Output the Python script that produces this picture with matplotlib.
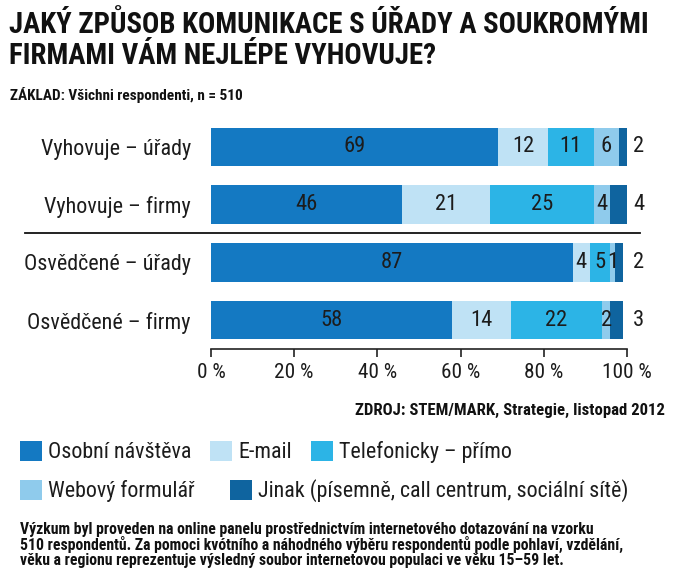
import matplotlib
matplotlib.use("Agg")
import matplotlib.pyplot as plt
from matplotlib import font_manager as fm
from matplotlib.font_manager import FontProperties

categories = ["Vyhovuje – úřady", "Vyhovuje – firmy", "Osvědčené – úřady", "Osvědčené – firmy"]
series_names = ["Osobní návštěva", "E-mail", "Telefonicky – přímo", "Webový formulář",
                "Jinak (písemně, call centrum, sociální sítě)"]
osobni = [69, 46, 87, 58]
email = [12, 21, 4, 14]
telefon = [11, 25, 5, 22]
web = [6, 4, 1, 2]
jinak = [2, 4, 2, 3]
series = [osobni, email, telefon, web, jinak]
colors = ["#1479c2", "#bfe2f5", "#2cb4e6", "#8fcbec", "#0f649f"]
ticks = [0, 20, 40, 60, 80, 100]
tick_labels = ["0 %", "20 %", "40 %", "60 %", "80 %", "100 %"]


# ---- font selection: prefer a condensed face ----
def _w(f):
    w = f.weight
    if isinstance(w, str):
        w = fm.weight_dict.get(w, 400)
    return w


def pick_font(target):
    pref = ['Roboto Condensed', 'Open Sans Condensed', 'Liberation Sans Narrow',
            'DejaVu Sans', 'Noto Sans', 'Open Sans']
    best, best_score = None, None
    for f in fm.fontManager.ttflist:
        cond = (str(f.stretch) in ('condensed', 'semi-condensed', 'extra-condensed')
                or 'Condensed' in f.fname or 'Narrow' in f.fname)
        if not cond or f.style != 'normal':
            continue
        rank = pref.index(f.name) if f.name in pref else len(pref)
        score = rank * 10000 + abs(_w(f) - target)
        if best_score is None or score < best_score:
            best, best_score = f.fname, score
    if best is None:
        best = fm.findfont(FontProperties(family='Roboto',
                                          weight='bold' if target > 500 else 'normal'))
    return best


REG = pick_font(400)
BOLD = pick_font(700)

W, H = 688, 575
fig = plt.figure(figsize=(W / 100, H / 100), dpi=100)
fig.patch.set_facecolor("white")
renderer = fig.canvas.get_renderer()


def fp(fname, size):
    return FontProperties(fname=fname, size=size)


def width_at(text, fname, size):
    t = fig.text(0, 0, text, fontproperties=fp(fname, size))
    w = t.get_window_extent(renderer).width
    t.remove()
    return w


def fit(text, fname, target_px, base=14):
    return base * target_px / width_at(text, fname, base)


reg_size = fit("Telefonicky – přímo", REG, 174)
cat_size = fit("Osvědčené – úřady", REG, 168)
title_size = fit("JAKÝ ZPŮSOB KOMUNIKACE S ÚŘADY A SOUKROMÝMI", BOLD, 640)
zdroj_size = fit("ZDROJ: STEM/MARK, Strategie, listopad 2012", BOLD, 311)
zaklad_size = fit("ZÁKLAD: Všichni respondenti, n = 510", BOLD, 234)
foot_size = fit("510 respondentů. Za pomoci kvótního a náhodného výběru respondentů podle pohlaví, vzdělání,",
                BOLD, 606)
tick_size = fit("100 %", REG, 50)
val_size = reg_size * 1.02

ax = fig.add_axes([211 / W, (H - 349) / H, 416 / W, 231 / H])
ax.set_facecolor("none")
ypos = list(range(len(categories)))
left = [0] * len(categories)
handles = []
for vals, col, name in zip(series, colors, series_names):
    b = ax.barh(ypos, vals, left=left, height=0.67, color=col, label=name, linewidth=0)
    handles.append(b)
    for i, (l, v) in enumerate(zip(left, vals)):
        if col == colors[-1]:
            ax.text(101.5, i, str(v), ha="left", va="center",
                    fontproperties=fp(REG, val_size), color="#1c1c1c")
        else:
            ax.text(l + v / 2, i, str(v), ha="center", va="center",
                    fontproperties=fp(REG, val_size), color="#1c1c1c")
    left = [a + b_ for a, b_ in zip(left, vals)]

ax.set_xlim(0, 100)
ax.set_ylim(3.5, -0.5)
ax.set_yticks(ypos)
ax.set_yticklabels(categories, color="#1c1c1c")
for lab in ax.get_yticklabels():
    lab.set_fontproperties(fp(REG, cat_size))
ax.tick_params(axis="y", length=0, pad=14.5)
ax.set_xticks(ticks)
ax.set_xticklabels(tick_labels, color="#1c1c1c")
for lab in ax.get_xticklabels():
    lab.set_fontproperties(fp(REG, tick_size))
ax.tick_params(axis="x", length=6, width=1.2, color="#222222", pad=4)
for s in ["top", "right", "left"]:
    ax.spines[s].set_visible(False)
ax.spines["bottom"].set_color("#222222")
ax.spines["bottom"].set_linewidth(1.2)

# separator line between groups
fig.add_artist(plt.Line2D([25 / W, 640 / W], [(H - 233) / H] * 2, color="#111111", lw=1.3))

# title and notes
fig.text(9 / W, 1 - 33 / H, "JAKÝ ZPŮSOB KOMUNIKACE S ÚŘADY A SOUKROMÝMI",
         fontproperties=fp(BOLD, title_size), va="baseline", ha="left", color="#111111")
fig.text(9 / W, 1 - 64 / H, "FIRMAMI VÁM NEJLÉPE VYHOVUJE?",
         fontproperties=fp(BOLD, title_size), va="baseline", ha="left", color="#111111")
fig.text(10 / W, 1 - 100 / H, "ZÁKLAD: Všichni respondenti, n = 510",
         fontproperties=fp(BOLD, zaklad_size), va="baseline", ha="left", color="#111111")
fig.text(665 / W, 1 - 415 / H, "ZDROJ: STEM/MARK, Strategie, listopad 2012",
         fontproperties=fp(BOLD, zdroj_size), va="baseline", ha="right", color="#111111")

leg_kw = dict(frameon=False, handlelength=1.0, handleheight=1.05,
              handletextpad=0.28, labelcolor="#1c1c1c",
              borderaxespad=0, borderpad=0)
leg1 = fig.legend(handles[:3], series_names[:3], ncol=3, loc="center left", columnspacing=0.85,
                  bbox_to_anchor=(20 / W, 1 - 452 / H), prop=fp(REG, reg_size), **leg_kw)
leg2 = fig.legend(handles[3:], series_names[3:], ncol=2, loc="center left", columnspacing=1.6,
                  bbox_to_anchor=(20 / W, 1 - 491 / H), prop=fp(REG, reg_size), **leg_kw)

foot = ["Výzkum byl proveden na online panelu prostřednictvím internetového dotazování na vzorku",
        "510 respondentů. Za pomoci kvótního a náhodného výběru respondentů podle pohlaví, vzdělání,",
        "věku a regionu reprezentuje výsledný soubor internetovou populaci ve věku 15–59 let."]
for k, line in enumerate(foot):
    fig.text(20 / W, 1 - (534 + 15.5 * k) / H, line, fontproperties=fp(BOLD, foot_size),
             va="baseline", ha="left", color="#111111")

fig.savefig("out.png", dpi=100, facecolor="white")
